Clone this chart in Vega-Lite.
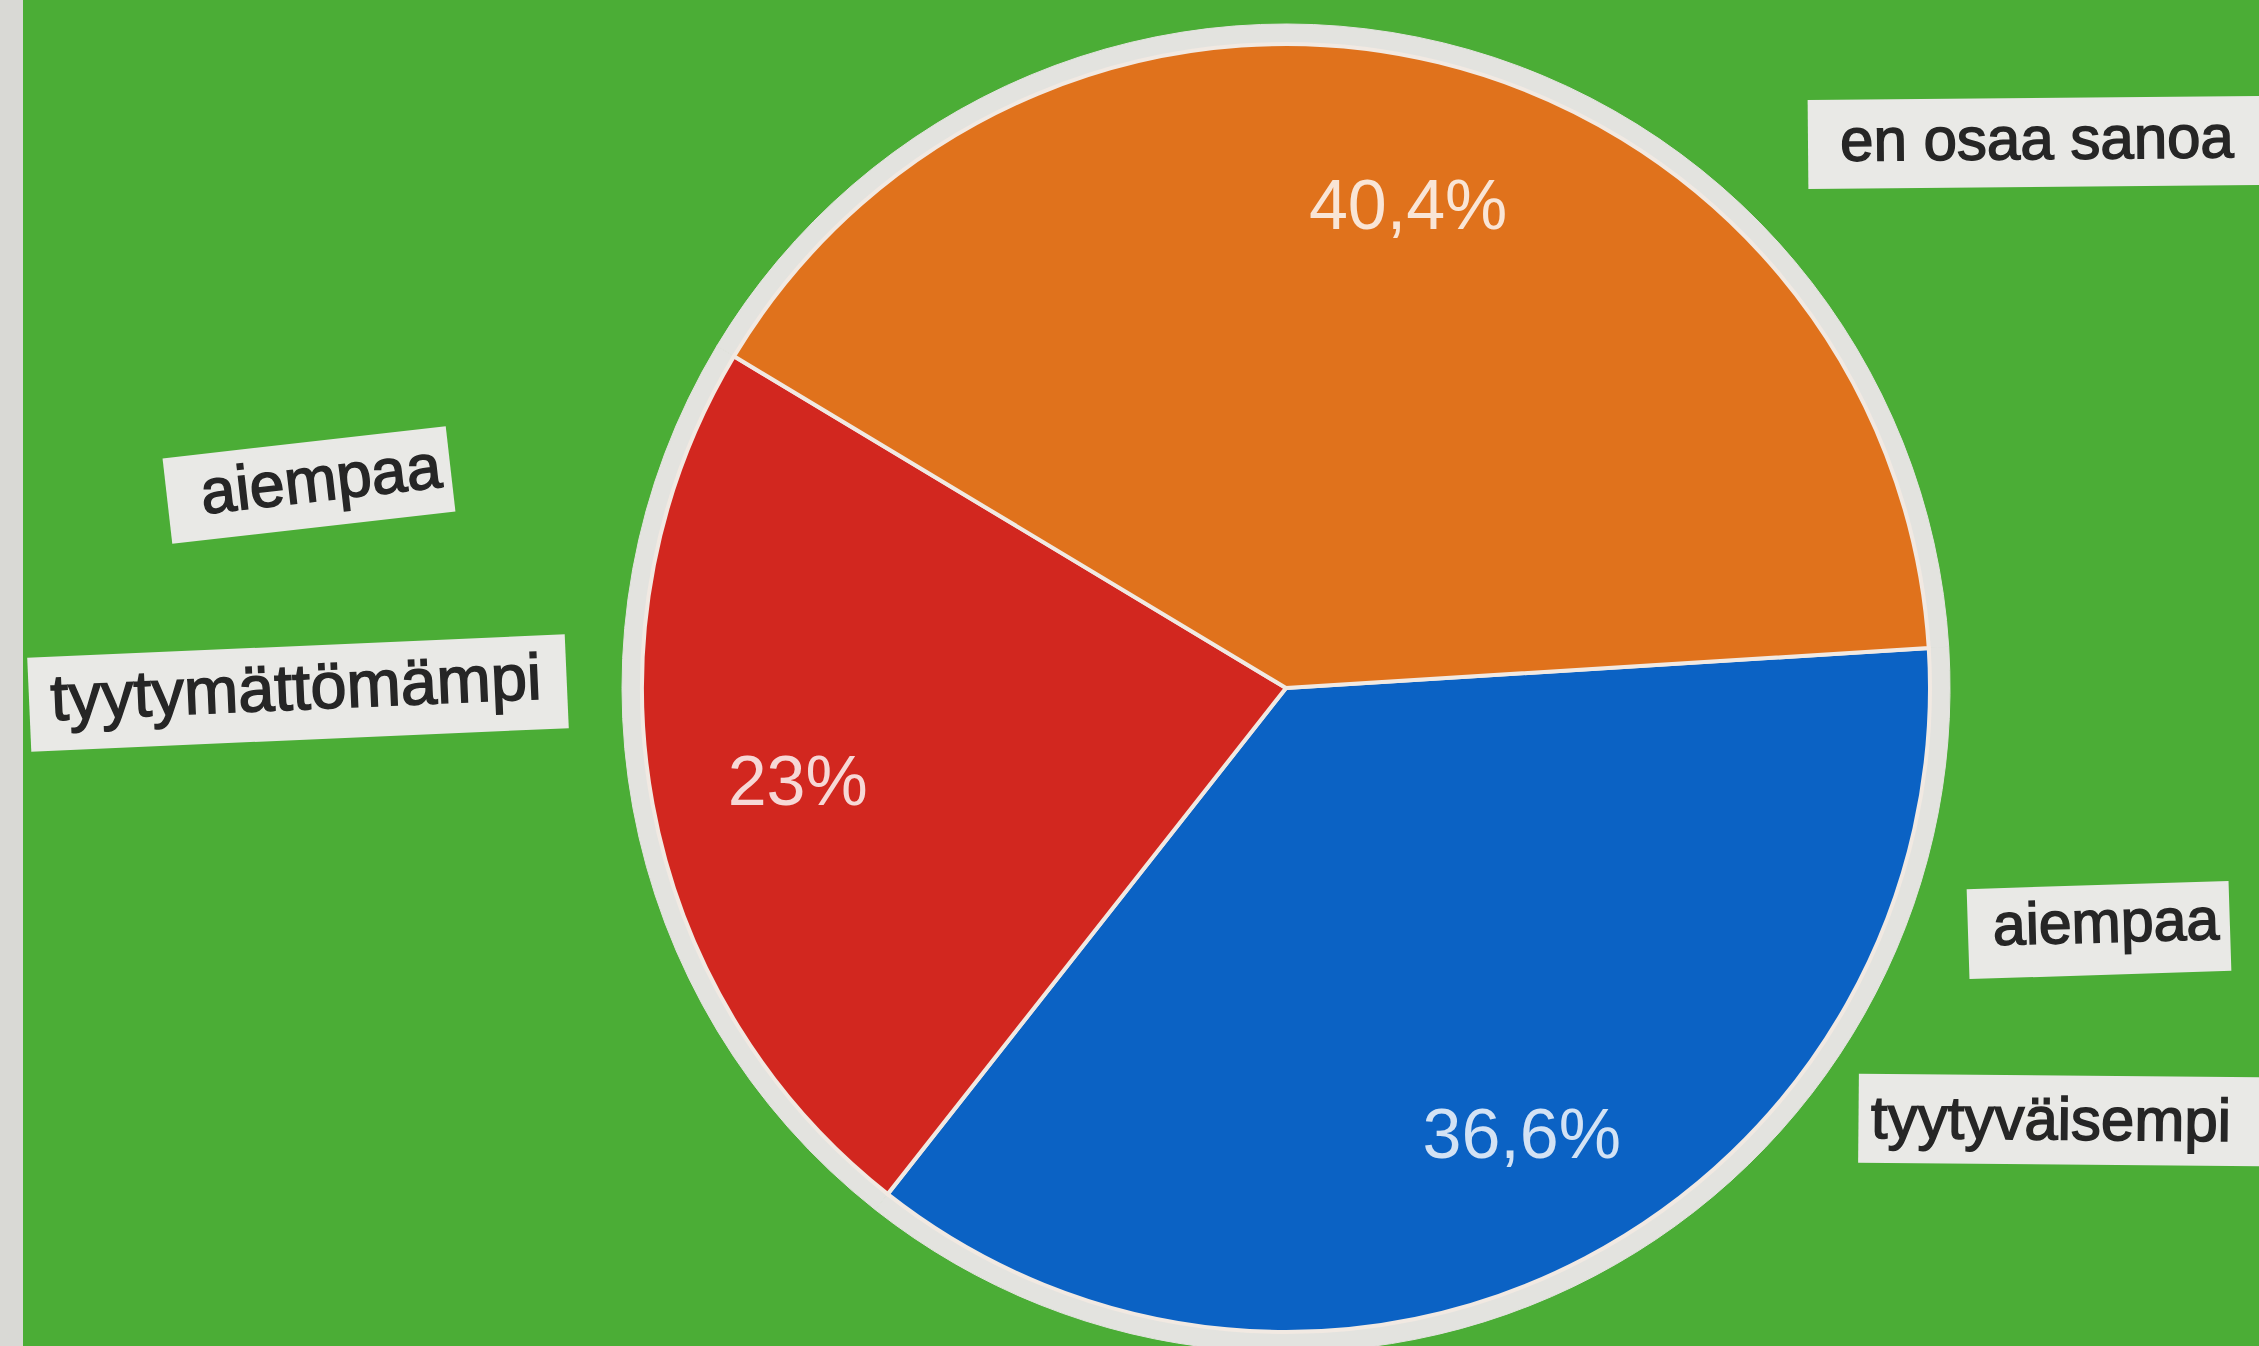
{
  "$schema": "https://vega.github.io/schema/vega-lite/v6.json",
  "width": 2237,
  "height": 1346,
  "autosize": {"type": "none"},
  "padding": {"left": 22, "top": 0, "right": 0, "bottom": 0},
  "background": "#4bad36",
  "config": {"view": {"stroke": null}},
  "data": {
    "values": [
      {"answer": "aiempaa tyytyväisempi", "first": "aiempaa", "second": "tyytyväisempi", "share": 36.6, "pct": "36,6%"},
      {"answer": "aiempaa tyytymättömämpi", "first": "aiempaa", "second": "tyytymättömämpi", "share": 23.0, "pct": "23%"},
      {"answer": "en osaa sanoa", "first": "en osaa sanoa", "second": "", "share": 40.4, "pct": "40,4%"}
    ]
  },
  "layer": [
    {
      "transform": [{"filter": {"field": "answer", "equal": "en osaa sanoa"}}],
      "mark": {"type": "point", "shape": "M-1,-58.52L1,-58.52L1,58.52L-1,58.52Z", "size": 529, "filled": true, "color": "#d9d9d5", "opacity": 1, "strokeWidth": 0, "xOffset": -1129, "yOffset": 0},
      "encoding": {}
    },
    {
      "mark": {"type": "arc", "radius": 664, "fill": "#e3e3df", "stroke": "#e3e3df", "strokeWidth": 1, "xOffset": 145.5, "yOffset": 15},
      "encoding": {
        "theta": {"field": "share", "type": "quantitative", "stack": true, "scale": {"domain": [0, 100], "range": [-1.0297, 5.2535]}},
        "order": {"field": "share", "sort": "descending"}
      }
    },
    {
      "mark": {"type": "arc", "radius": 644, "stroke": "#f1e9e2", "strokeWidth": 4, "xOffset": 145.5, "yOffset": 15},
      "encoding": {
        "theta": {"field": "share", "type": "quantitative", "stack": true, "scale": {"domain": [0, 100], "range": [-1.0297, 5.2535]}},
        "order": {"field": "share", "sort": "descending"},
        "color": {"field": "answer", "type": "nominal", "legend": null,
          "scale": {"domain": ["aiempaa tyytyväisempi", "aiempaa tyytymättömämpi", "en osaa sanoa"], "range": ["#0b62c4", "#d2271f", "#e0721c"]}}
      }
    },
    {
      "mark": {"type": "text", "radius": 500, "fontSize": 70, "font": "Liberation Sans", "color": "#ffffff", "opacity": 0.82, "align": "center", "baseline": "middle", "xOffset": 149, "yOffset": 21},
      "encoding": {
        "theta": {"field": "share", "type": "quantitative", "stack": true, "scale": {"domain": [0, 100], "range": [-1.0297, 5.2535]}},
        "order": {"field": "share", "sort": "descending"},
        "text": {"field": "pct"}
      }
    },
    {
      "transform": [{"filter": {"field": "answer", "equal": "en osaa sanoa"}}],
      "layer": [
        {"mark": {"type": "point", "shape": "M-1,-0.1926L1,-0.1926L1,0.1926L-1,0.1926Z", "size": 213444, "filled": true, "color": "#e9e9e6", "opacity": 1, "strokeWidth": 0, "angle": -0.5, "xOffset": 898.5, "yOffset": -530.5}, "encoding": {}},
        {"mark": {"type": "text", "font": "Liberation Sans", "fontSize": 60, "color": "#262626", "stroke": "#262626", "strokeWidth": 1.5, "align": "center", "baseline": "middle", "angle": -0.5, "xOffset": 896.5, "yOffset": -532}, "encoding": {"text": {"field": "first"}}}
      ]
    },
    {
      "transform": [{"filter": {"field": "answer", "equal": "aiempaa tyytymättömämpi"}}],
      "layer": [
        {"mark": {"type": "point", "shape": "M-1,-0.3018L1,-0.3018L1,0.3018L-1,0.3018Z", "size": 81225, "filled": true, "color": "#e9e9e6", "opacity": 1, "strokeWidth": 0, "angle": -6.5, "xOffset": -831.5, "yOffset": -188}, "encoding": {}},
        {"mark": {"type": "text", "font": "Liberation Sans", "fontSize": 63, "color": "#262626", "stroke": "#262626", "strokeWidth": 1.5, "align": "center", "baseline": "middle", "angle": -6.5, "xOffset": -819.5, "yOffset": -191.5}, "encoding": {"text": {"field": "first"}}},
        {"mark": {"type": "point", "shape": "M-1,-0.1747L1,-0.1747L1,0.1747L-1,0.1747Z", "size": 289444, "filled": true, "color": "#e9e9e6", "opacity": 1, "strokeWidth": 0, "angle": -2.5, "xOffset": -842.5, "yOffset": 20}, "encoding": {}},
        {"mark": {"type": "text", "font": "Liberation Sans", "fontSize": 65, "color": "#262626", "stroke": "#262626", "strokeWidth": 1.5, "align": "center", "baseline": "middle", "angle": -2.5, "xOffset": -844.5, "yOffset": 16.5}, "encoding": {"text": {"field": "second"}}}
      ]
    },
    {
      "transform": [{"filter": {"field": "answer", "equal": "aiempaa tyytyväisempi"}}],
      "layer": [
        {"mark": {"type": "point", "shape": "M-1,-0.3435L1,-0.3435L1,0.3435L-1,0.3435Z", "size": 68644, "filled": true, "color": "#e9e9e6", "opacity": 1, "strokeWidth": 0, "angle": -1.8, "xOffset": 958.5, "yOffset": 257}, "encoding": {}},
        {"mark": {"type": "text", "font": "Liberation Sans", "fontSize": 59, "color": "#262626", "stroke": "#262626", "strokeWidth": 1.5, "align": "center", "baseline": "middle", "angle": -1.5, "xOffset": 965.5, "yOffset": 251}, "encoding": {"text": {"field": "first"}}},
        {"mark": {"type": "point", "shape": "M-1,-0.2145L1,-0.2145L1,0.2145L-1,0.2145Z", "size": 172225, "filled": true, "color": "#e9e9e6", "opacity": 1, "strokeWidth": 0, "angle": 0.5, "xOffset": 925.5, "yOffset": 447}, "encoding": {}},
        {"mark": {"type": "text", "font": "Liberation Sans", "fontSize": 60, "color": "#262626", "stroke": "#262626", "strokeWidth": 1.5, "align": "center", "baseline": "middle", "angle": 0.5, "xOffset": 910.5, "yOffset": 448.5}, "encoding": {"text": {"field": "second"}}}
      ]
    }
  ]
}
